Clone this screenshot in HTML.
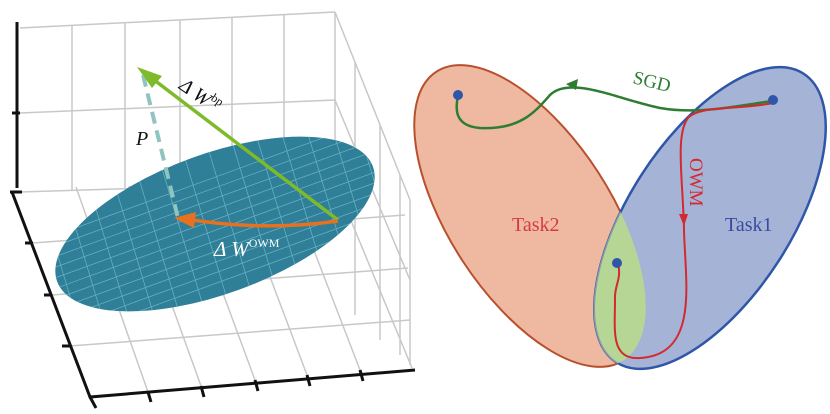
<!DOCTYPE html>
<html><head><meta charset="utf-8"><style>
html,body{margin:0;padding:0;background:#fff;}
svg{display:block;font-family:"Liberation Serif",serif;}
</style></head><body>
<svg width="830" height="414" viewBox="0 0 830 414">
<defs>
 <clipPath id="c2"><ellipse cx="530" cy="216" rx="172" ry="81" transform="rotate(57 530 216)"/></clipPath>
 <clipPath id="ce"><ellipse cx="215" cy="224" rx="168" ry="70" transform="rotate(-20 215 224)"/></clipPath>
</defs>
<g>
 <g stroke="#c8c8c8" stroke-width="1.5" fill="none">
  <path d="M20 28 L335 12 M20 113 L335 100 M20 192 L335 182"/>
  <path d="M72 26 V190 M125 23 V189 M180 20 V188 M232 18 V186 M284 15 V185 M335 12 V182"/>
  <path d="M335 12 L410 200 M335 100 L410 280 M335 182 L412 368"/>
  <path d="M355 62 V315 M380 125 V340 M400 175 V355 M410 200 V365"/>
  <path d="M33 243 L405 215 M52 295 L408 268 M70 346 L410 320"/>
  <path d="M148 392 L76 187 M201 386 L129 186 M255 380 L183 185 M307 375 L235 184 M360 370 L288 183"/>
 </g>
 <g stroke="#111" stroke-width="3" fill="none">
  <path d="M17 22 V188"/>
  <path d="M12 192 L90 397 L415 370"/>
  <path d="M10 192 H22 M12 113 H20 M33 243 H25 M52 295 H44 M70 346 H62 M90 397 L96 408 M148 392 L151 402 M201 386 L204 397 M255 380 L258 391 M307 375 L310 386 M360 370 L363 381"/>
 </g>
 <g>
  <ellipse cx="215" cy="224" rx="168" ry="70" transform="rotate(-20 215 224)" fill="#2e7f97"/>
  <g clip-path="url(#ce)" stroke="#7fc3d4" stroke-width="0.8" opacity="0.7" fill="none">
   <g transform="rotate(-20 215 224)">
    <path d="M40 180 H390 M40 190 H390 M40 200 H390 M40 210 H390 M40 220 H390 M40 230 H390 M40 240 H390 M40 250 H390 M40 260 H390 M40 270 H390 M40 280 H390"/>
    <path d="M60 140 L50 310 M85 140 L75 310 M110 140 L100 310 M135 140 L125 310 M160 140 L150 310 M185 140 L175 310 M210 140 L200 310 M235 140 L225 310 M260 140 L250 310 M285 140 L275 310 M310 140 L300 310 M335 140 L325 310 M360 140 L350 310 M385 140 L375 310"/>
   </g>
  </g>
 </g>
 <path d="M143 75 L178 218" stroke="#8fc4c0" stroke-width="4" stroke-dasharray="12 7"/>
 <g>
  <path d="M338 220 L145 73" stroke="#7fba2b" stroke-width="3.5"/>
  <path d="M137 67 L162 76 L152 88 Z" fill="#7fba2b"/>
 </g>
 <g>
  <path d="M338 221 Q260 232 180 218" stroke="#e8701f" stroke-width="3.5" fill="none"/>
  <path d="M174 218 L196 212 L194 228 Z" fill="#e8701f"/>
 </g>
 <text x="178" y="88" font-size="20" font-style="italic" transform="rotate(35 178 88)" fill="#111">Δ W<tspan font-size="12" dy="-9" font-style="normal">bp</tspan></text>
 <text x="136" y="145" font-size="20" font-style="italic" fill="#111">P</text>
 <text x="214" y="256" font-size="21" font-style="italic" fill="#fff">Δ W<tspan font-size="12" dy="-9" font-style="normal">OWM</tspan></text>
</g>
<g>
 <ellipse cx="530" cy="216" rx="172" ry="81" transform="rotate(57 530 216)" fill="#eeb9a0" stroke="#b8502e" stroke-width="2"/>
 <ellipse cx="710" cy="218" rx="172" ry="81" transform="rotate(-57 710 218)" fill="#a5b4d6" stroke="#2f56a8" stroke-width="2.5"/>
 <g clip-path="url(#c2)">
  <ellipse cx="710" cy="218" rx="172" ry="81" transform="rotate(-57 710 218)" fill="#b5d694" stroke="#8a9aa8" stroke-width="1.5"/>
 </g>
 <path d="M773 101 C740 105 700 115 660 108 C620 100 570 75 550 95 C535 112 520 130 480 128 C455 126 455 110 458 96" stroke="#2e7d32" stroke-width="2.5" fill="none"/>
 <path d="M566 84 L578 79 L576 90 Z" fill="#2e7d32"/>
 <path d="M773 103 C740 110 700 105 688 118 C675 135 683 180 684 230 C685 280 700 355 640 358 C610 360 615 330 615 300 C614 285 622 280 618 263" stroke="#d3292f" stroke-width="2" fill="none"/>
 <path d="M679 214 L688 214 L684 226 Z" fill="#d3292f"/>
 <circle cx="458" cy="95" r="5" fill="#2f56a8"/>
 <circle cx="773" cy="100" r="5" fill="#2f56a8"/>
 <circle cx="617" cy="263" r="5" fill="#2f56a8"/>
 <text x="632" y="83" font-size="19" fill="#2e7d32" transform="rotate(14 632 83)">SGD</text>
 <text x="690" y="158" font-size="19" fill="#d3292f" transform="rotate(90 690 158)">OWM</text>
 <text x="512" y="231" font-size="20" fill="#d63a4a">Task2</text>
 <text x="725" y="231" font-size="20" fill="#3a4aa0">Task1</text>
</g>
</svg>
</body></html>
